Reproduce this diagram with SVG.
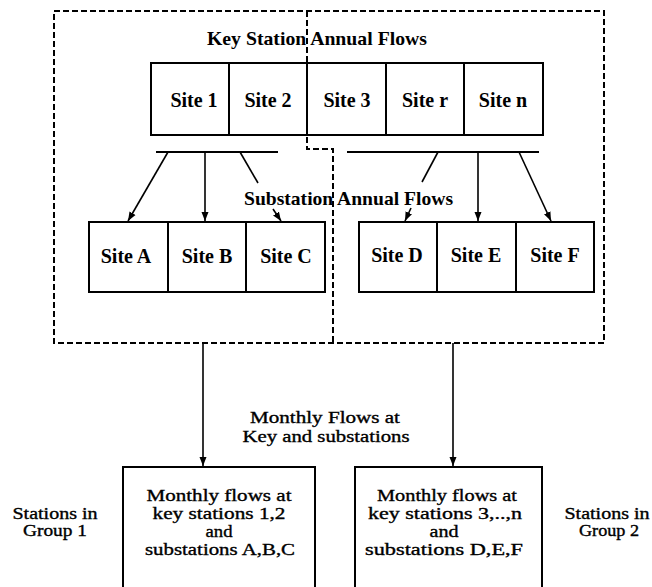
<svg xmlns="http://www.w3.org/2000/svg" width="652" height="587" viewBox="0 0 652 587">
  <style>
    .box { fill: #fff; stroke: #000; stroke-width: 2; }
    .div { stroke: #000; stroke-width: 2; }
    .dash { fill: none; stroke: #000; stroke-width: 2; stroke-dasharray: 6 3; }
    .line { fill: none; stroke: #000; stroke-width: 1.6; }
    .bar { stroke: #000; stroke-width: 2.2; }
    .site { font-family: "Liberation Serif", "Times New Roman", serif; font-size: 20px; font-weight: bold; text-anchor: middle; fill: #000; }
    .hdr { font-family: "Liberation Serif", "Times New Roman", serif; font-size: 19px; font-weight: bold; fill: #000; }
    .txt { font-family: "Liberation Serif", "Times New Roman", serif; font-size: 16.5px; text-anchor: middle; fill: #000; stroke: #000; stroke-width: 0.35; }
    .lbl { font-family: "Liberation Serif", "Times New Roman", serif; font-size: 16px; text-anchor: middle; fill: #000; stroke: #000; stroke-width: 0.35; }
  </style>
  <defs>
    <marker id="arrow" markerUnits="userSpaceOnUse" markerWidth="10" markerHeight="8" refX="9" refY="4" orient="auto">
      <path d="M0,0.5 L9,4 L0,7.5 z" fill="#000"/>
    </marker>
  </defs>

  <rect width="652" height="587" fill="#fff"/>

  <!-- grouping frame and group split -->
  <g id="frame">
    <rect class="dash" x="54" y="11" width="550" height="332"/>
    <path class="dash" d="M307,11 V149 H333 V343"/>
  </g>

  <!-- key station row -->
  <g id="key-stations">
    <rect class="box" x="151" y="63" width="392" height="72"/>
    <line class="div" x1="229" y1="63" x2="229" y2="135"/>
    <line class="div" x1="307" y1="63" x2="307" y2="135"/>
    <line class="div" x1="386" y1="63" x2="386" y2="135"/>
    <line class="div" x1="464" y1="63" x2="464" y2="135"/>
    <text class="site" x="194" y="107">Site 1</text>
    <text class="site" x="268" y="107">Site 2</text>
    <text class="site" x="347" y="107">Site 3</text>
    <text class="site" x="425" y="107">Site r</text>
    <text class="site" x="503" y="107">Site n</text>
  </g>
  <text id="key-title" class="hdr" x="207" y="45" textLength="220" lengthAdjust="spacingAndGlyphs">Key Station Annual Flows</text>

  <!-- substation rows -->
  <g id="substations-1">
    <rect class="box" x="89" y="222" width="236" height="70"/>
    <line class="div" x1="168" y1="222" x2="168" y2="292"/>
    <line class="div" x1="246" y1="222" x2="246" y2="292"/>
    <text class="site" x="126" y="263">Site A</text>
    <text class="site" x="207" y="263">Site B</text>
    <text class="site" x="286" y="263">Site C</text>
  </g>
  <g id="substations-2">
    <rect class="box" x="359" y="222" width="235" height="70"/>
    <line class="div" x1="437" y1="222" x2="437" y2="292"/>
    <line class="div" x1="516" y1="222" x2="516" y2="292"/>
    <text class="site" x="397" y="262">Site D</text>
    <text class="site" x="476" y="262">Site E</text>
    <text class="site" x="555" y="262">Site F</text>
  </g>
  <text id="sub-title" class="hdr" x="244" y="205" textLength="209" lengthAdjust="spacingAndGlyphs">Substation Annual Flows</text>

  <!-- monthly flow result boxes -->
  <g id="group-1-box">
    <rect class="box" x="123" y="467" width="192" height="140"/>
    <text class="txt" x="219" y="501" textLength="145" lengthAdjust="spacingAndGlyphs">Monthly flows at</text>
    <text class="txt" x="219" y="519" textLength="133" lengthAdjust="spacingAndGlyphs">key stations 1,2</text>
    <text class="txt" x="219" y="537" textLength="27" lengthAdjust="spacingAndGlyphs">and</text>
    <text class="txt" x="220" y="555" textLength="150" lengthAdjust="spacingAndGlyphs">substations A,B,C</text>
  </g>
  <g id="group-2-box">
    <rect class="box" x="355" y="467" width="187" height="140"/>
    <text class="txt" x="447" y="501" textLength="140" lengthAdjust="spacingAndGlyphs">Monthly flows at</text>
    <text class="txt" x="445" y="519" textLength="154" lengthAdjust="spacingAndGlyphs">key stations 3,..,n</text>
    <text class="txt" x="444" y="537" textLength="29" lengthAdjust="spacingAndGlyphs">and</text>
    <text class="txt" x="444" y="555" textLength="158" lengthAdjust="spacingAndGlyphs">substations D,E,F</text>
  </g>

  <g id="group-1-label">
    <text class="lbl" x="55" y="519" textLength="85" lengthAdjust="spacingAndGlyphs">Stations in</text>
    <text class="lbl" x="55" y="536" textLength="64" lengthAdjust="spacingAndGlyphs">Group 1</text>
  </g>
  <g id="group-2-label">
    <text class="lbl" x="607" y="519" textLength="85" lengthAdjust="spacingAndGlyphs">Stations in</text>
    <text class="lbl" x="609" y="536" textLength="60" lengthAdjust="spacingAndGlyphs">Group 2</text>
  </g>

  <g id="monthly-label">
    <text class="txt" x="325" y="423" textLength="150" lengthAdjust="spacingAndGlyphs">Monthly Flows at</text>
    <text class="txt" x="326" y="442" textLength="167" lengthAdjust="spacingAndGlyphs">Key and substations</text>
  </g>

  <!-- connectors -->
  <g id="connectors">
    <line class="bar" x1="156" y1="152" x2="278" y2="152"/>
    <line class="bar" x1="347" y1="152" x2="539" y2="152"/>
    <path class="line" d="M168,152 L128,221" marker-end="url(#arrow)"/>
    <path class="line" d="M205,152 V221" marker-end="url(#arrow)"/>
    <path class="line" d="M240,152 L258,183"/>
    <path class="line" d="M273,209 L281,221" marker-end="url(#arrow)"/>
    <path class="line" d="M438,152 L422,182"/>
    <path class="line" d="M411,208 L405,221" marker-end="url(#arrow)"/>
    <path class="line" d="M478,152 V221" marker-end="url(#arrow)"/>
    <path class="line" d="M519,152 L551,221" marker-end="url(#arrow)"/>
    <path class="line" d="M203,343 V466" marker-end="url(#arrow)"/>
    <path class="line" d="M453,343 V466" marker-end="url(#arrow)"/>
  </g>
</svg>
